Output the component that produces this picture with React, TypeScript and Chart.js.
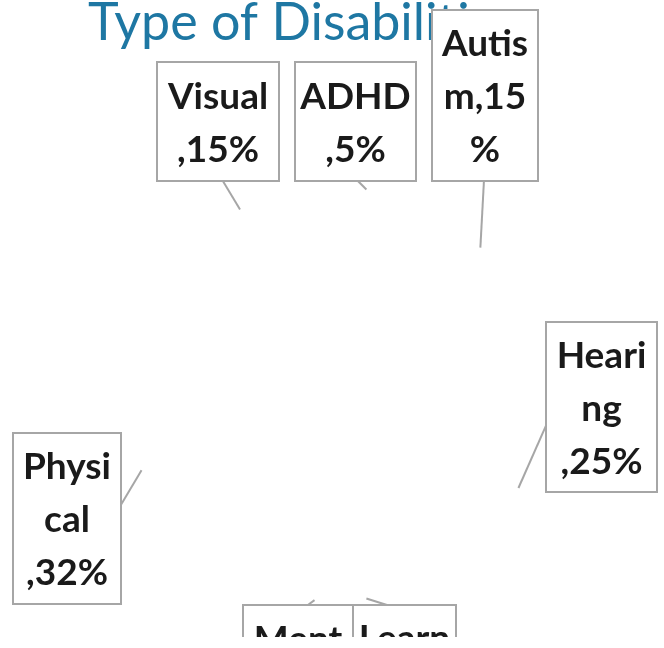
import React, { useEffect, useRef } from "react";
import { Chart, registerables } from "chart.js";

Chart.register(...registerables);

const TITLE = "Type of Disabilities";
const categories = ["ADHD", "Autism", "Hearing", "Learning", "Mental", "Physical", "Visual"];
const values = [5, 15, 25, 5, 3, 32, 15];
// where each callout's text wraps (character indices in "Category,Value%")
const labelBreaks = [[4], [5, 9], [5, 7], [5, 10], [4], [5, 8], [6]];

// callout box layout (x, y, w, h) and the point on the box where the leader line attaches (fractions)
const boxLayout = [
  { x: 295, y: 62, w: 121, h: 119, ax: 0.52, ay: 1 },
  { x: 432, y: 10, w: 106, h: 171, ax: 0.49, ay: 1 },
  { x: 546, y: 322, w: 111, h: 170, ax: 0, ay: 0.61 },
  { x: 353, y: 605, w: 103, h: 171, ax: 0.33, ay: 0 },
  { x: 243, y: 605, w: 110, h: 119, ax: 0.59, ay: 0 },
  { x: 13, y: 433, w: 108, h: 171, ax: 1, ay: 0.42 },
  { x: 157, y: 62, w: 122, h: 119, ax: 0.54, ay: 1 },
];

function labelLines(i: number): string[] {
  const text = `${categories[i]},${values[i]}%`;
  const out: string[] = [];
  let prev = 0;
  for (const b of labelBreaks[i]) {
    out.push(text.slice(prev, b));
    prev = b;
  }
  out.push(text.slice(prev));
  return out;
}

const calloutPlugin = {
  id: "callouts",
  afterDraw(chart: any) {
    const ctx = chart.ctx as CanvasRenderingContext2D;
    ctx.save();
    // title
    ctx.font = "52px Lato";
    ctx.fillStyle = "#1E77A3";
    ctx.textAlign = "left";
    ctx.textBaseline = "alphabetic";
    ctx.fillText(TITLE, 88, 40);

    const meta = chart.getDatasetMeta(0);
    meta.data.forEach((arc: any, i: number) => {
      const p = arc.getProps(["x", "y", "startAngle", "endAngle", "outerRadius"], true);
      const mid = (p.startAngle + p.endAngle) / 2;
      const ax = p.x + Math.cos(mid) * p.outerRadius;
      const ay = p.y + Math.sin(mid) * p.outerRadius;
      const b = boxLayout[i];
      const ex = b.x + b.w * b.ax;
      const ey = b.y + b.h * b.ay;
      ctx.strokeStyle = "#A6A6A6";
      ctx.lineWidth = 2;
      ctx.beginPath();
      ctx.moveTo(ax, ay);
      ctx.lineTo(ex, ey);
      ctx.stroke();
    });
    meta.data.forEach((_arc: any, i: number) => {
      const b = boxLayout[i];
      ctx.fillStyle = "#FFFFFF";
      ctx.fillRect(b.x, b.y, b.w, b.h);
      ctx.strokeStyle = "#A6A6A6";
      ctx.lineWidth = 2;
      ctx.strokeRect(b.x, b.y, b.w, b.h);
      const lines = labelLines(i);
      ctx.fillStyle = "#1A1A1A";
      ctx.font = "bold 37px Lato";
      ctx.textAlign = "center";
      ctx.textBaseline = "middle";
      const cy = b.y + b.h / 2 + 2;
      lines.forEach((ln, k) => {
        ctx.fillText(ln, b.x + b.w / 2, cy + (k - (lines.length - 1) / 2) * 53);
      });
    });
    ctx.restore();
  },
};

export default function App() {
  const ref = useRef<HTMLCanvasElement | null>(null);
  useEffect(() => {
    if (!ref.current) return;
    const chart = new Chart(ref.current, {
      type: "pie",
      data: {
        labels: categories,
        datasets: [
          {
            data: values,
            backgroundColor: "#FFFFFF",
            borderColor: "#FFFFFF",
            borderWidth: 0,
          },
        ],
      },
      options: {
        responsive: false,
        animation: false,
        layout: { padding: { left: 127, right: 123, top: 187, bottom: 36 } },
        plugins: {
          legend: { display: false },
          title: { display: false },
          tooltip: { enabled: false },
        },
      },
      plugins: [calloutPlugin],
    });
    return () => chart.destroy();
  }, []);
  return (
    <div style={{ position: "fixed", left: 0, top: 0, width: 664, height: 648, background: "#fff" }}>
      <canvas ref={ref} width={664} height={637} style={{ display: "block" }} />
    </div>
  );
}
